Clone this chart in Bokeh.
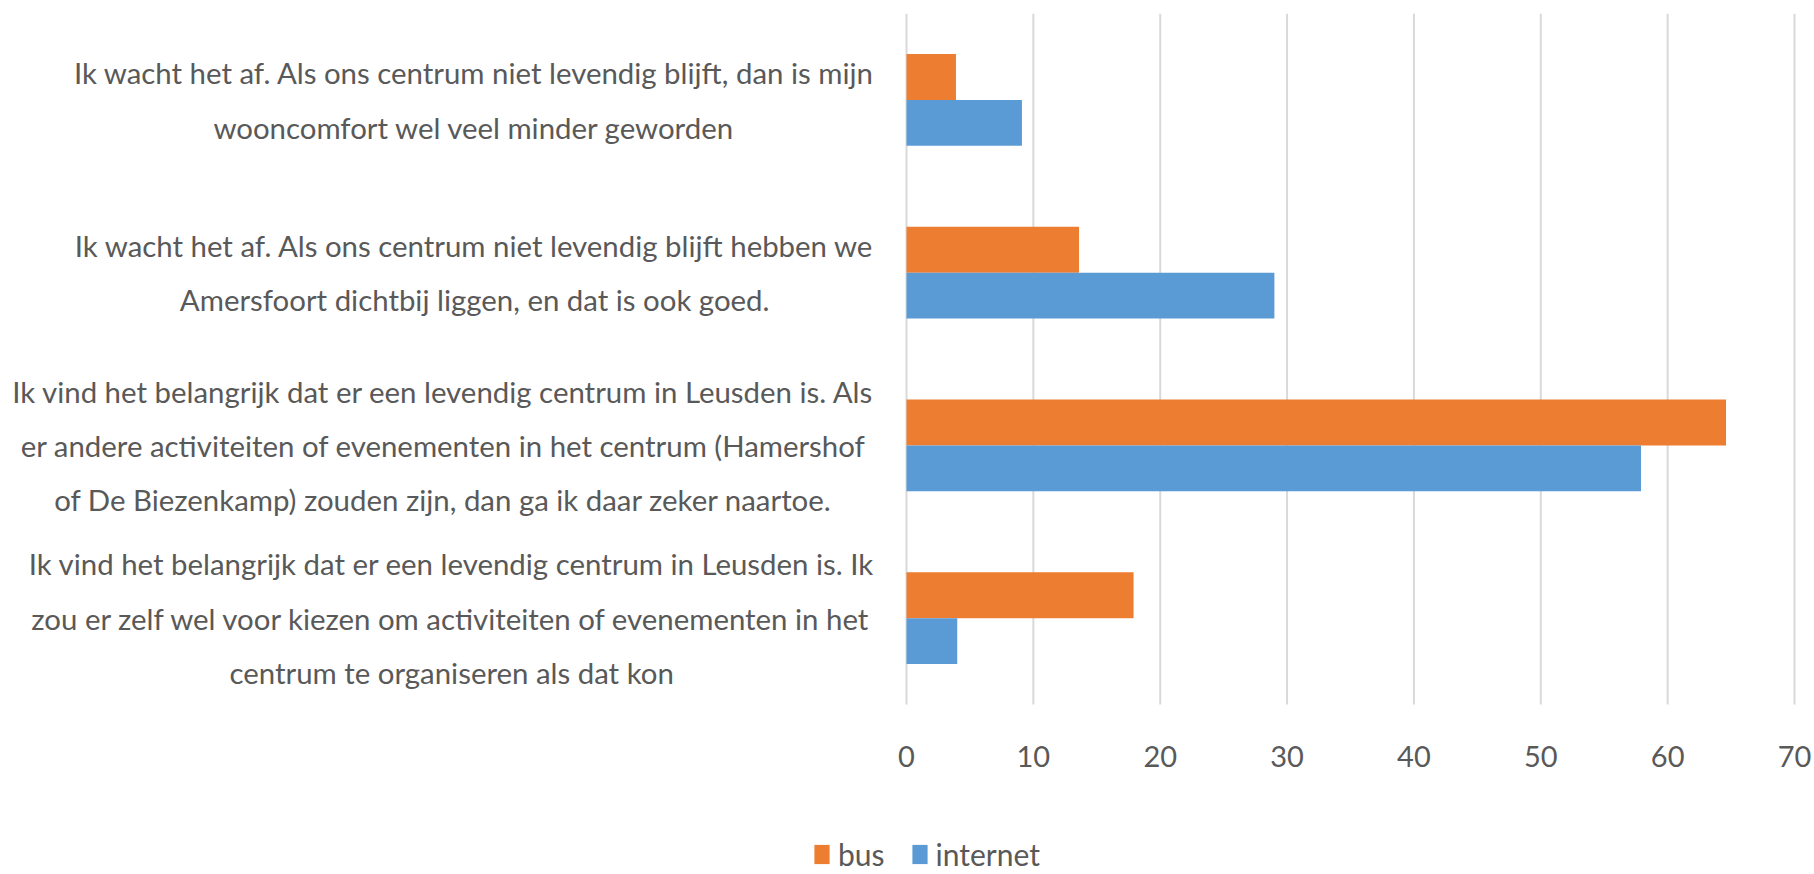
from bokeh.plotting import figure
from bokeh.models import Range1d, FixedTicker, Legend, LegendItem, ColumnDataSource
from bokeh.core.properties import value
from bokeh.embed import file_html
from bokeh.resources import INLINE

# ---------------- data ----------------
categories = [
    "Ik wacht het af. Als ons centrum niet levendig blijft, dan is mijn\nwooncomfort wel veel minder geworden",
    "Ik wacht het af. Als ons centrum niet levendig blijft hebben we\nAmersfoort dichtbij liggen, en dat is ook goed.",
    "Ik vind het belangrijk dat er een levendig centrum in Leusden is. Als\ner andere activiteiten of evenementen in het centrum (Hamershof\nof De Biezenkamp) zouden zijn, dan ga ik daar zeker naartoe.",
    "Ik vind het belangrijk dat er een levendig centrum in Leusden is. Ik\nzou er zelf wel voor kiezen om activiteiten of evenementen in het\ncentrum te organiseren als dat kon",
]
bus = [3.9, 13.6, 64.6, 17.9]
internet = [9.1, 29.0, 57.9, 4.0]
series_names = ["bus", "internet"]
x_ticks = [0, 10, 20, 30, 40, 50, 60, 70]

# ---------------- style / layout ----------------
FONT = "Lato"
TEXT_COLOR = "#595959"
COLORS = ["#ED7D31", "#5B9BD5"]
GRID_COLOR = "#D9D9D9"

W, H = 1812, 872
BORDER_TOP = 13
CAT_AREA_PX = 691      # height of the band holding the categories
ZERO_PX = 906          # screen position of x = 0
AXIS_END_PX = 1794     # screen position of the last tick
LABEL_GAP_PX = 32      # gap between label block and x = 0
BAR_H = 0.265          # bar thickness in category units

x_last = x_ticks[-1]
px_per_unit = (AXIS_END_PX - ZERO_PX) / x_last
x_min = -ZERO_PX / px_per_unit
x_max = (W - ZERO_PX) / px_per_unit

n = len(categories)
frame_h = H - BORDER_TOP
px_per_cat = CAT_AREA_PX / n
y_min = -(frame_h - CAT_AREA_PX) / px_per_cat
y_centers = [n - 0.5 - i for i in range(n)]

p = figure(
    width=W, height=H,
    x_range=Range1d(x_min, x_max), y_range=Range1d(y_min, n),
    output_backend="svg", toolbar_location=None, tools="",
    min_border_left=0, min_border_right=0,
    min_border_top=BORDER_TOP, min_border_bottom=0,
)
p.outline_line_color = None
p.background_fill_color = "white"
p.xgrid.visible = False
p.ygrid.visible = False
p.yaxis.visible = False

# value axis (drawn at y = 0, below the category band)
ticker = FixedTicker(ticks=x_ticks)
p.xaxis.ticker = ticker
p.xaxis.fixed_location = 0
p.xaxis.axis_line_color = None
p.xaxis.major_tick_line_color = None
p.xaxis.minor_tick_line_color = None
p.xaxis.major_tick_out = 0
p.xaxis.major_tick_in = 0
p.xaxis.major_label_standoff = 41
p.xaxis.major_label_text_font = FONT
p.xaxis.major_label_text_font_size = "29px"
p.xaxis.major_label_text_color = TEXT_COLOR

# vertical gridlines, limited to the category band
p.segment(x0=x_ticks, y0=[0] * len(x_ticks), x1=x_ticks, y1=[n] * len(x_ticks),
          line_color=GRID_COLOR, line_width=2)

# bars
src_bus = ColumnDataSource(dict(y=[c + BAR_H / 2 for c in y_centers], right=bus))
src_int = ColumnDataSource(dict(y=[c - BAR_H / 2 for c in y_centers], right=internet))
r_bus = p.hbar(y="y", left=0, right="right", height=BAR_H, source=src_bus,
               fill_color=COLORS[0], line_color=None)
r_int = p.hbar(y="y", left=0, right="right", height=BAR_H, source=src_int,
               fill_color=COLORS[1], line_color=None)

# category labels (multi-line, lines centred, block right-aligned to the axis)
src_lab = ColumnDataSource(dict(x=[-LABEL_GAP_PX / px_per_unit] * n, y=y_centers, text=categories))
p.text(x="x", y="y", text="text", source=src_lab,
       anchor="center_right", text_align="center", text_baseline="middle",
       text_line_height=1.55, text_font=value(FONT), text_font_size="29.4px",
       text_color=TEXT_COLOR)

# legend
legend = Legend(
    items=[LegendItem(label=series_names[0], renderers=[r_bus]),
           LegendItem(label=series_names[1], renderers=[r_int])],
    location=(812, 0), orientation="horizontal",
    glyph_width=19, glyph_height=24, label_standoff=7, spacing=25,
    padding=0, margin=0, border_line_color=None, background_fill_alpha=0,
    label_text_font=FONT, label_text_font_size="30px", label_text_color=TEXT_COLOR,
)
p.add_layout(legend, "center")

open("out.html", "w").write(file_html(p, INLINE))
